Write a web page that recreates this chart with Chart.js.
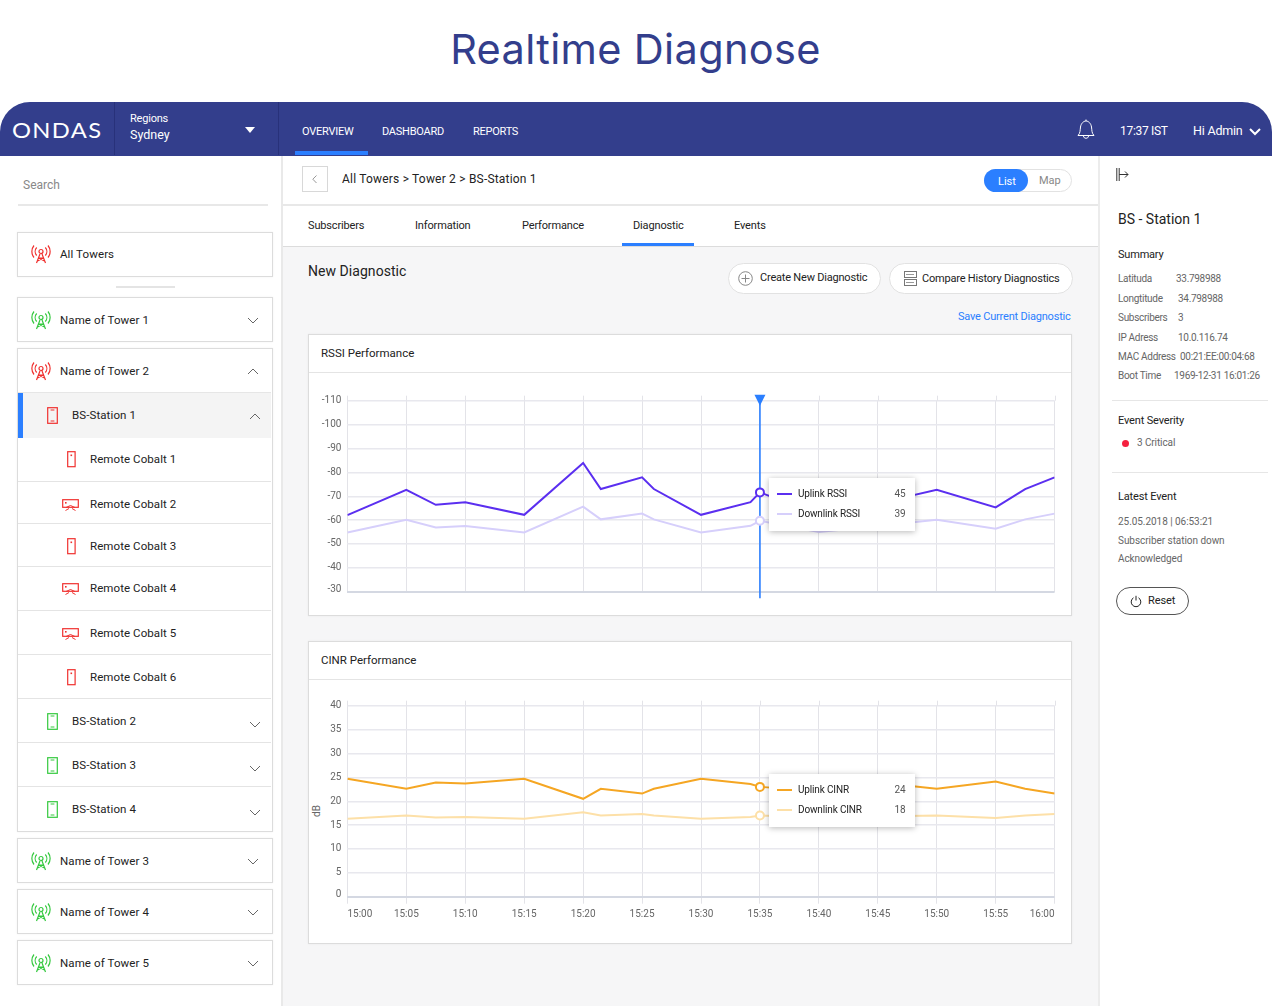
<!DOCTYPE html>
<html><head><meta charset="utf-8"><title>Realtime Diagnose</title>
<script src="https://cdn.jsdelivr.net/npm/chart.js@4"></script>
<style>
html,body{margin:0;padding:0;background:#fff}
body{width:1272px;height:1006px;position:relative;overflow:hidden;font-family:Roboto,sans-serif;color:#222}
.a{position:absolute}
.t{position:absolute;white-space:nowrap;line-height:1;transform:translateY(-50%)}
.box{position:absolute;background:#fff;border:1px solid #dcdcdc;box-sizing:border-box;box-shadow:0 0 2px rgba(0,0,0,.06)}
.tip{position:absolute;background:#fff;box-shadow:0 1px 6px rgba(0,0,0,.28);box-sizing:border-box;z-index:5}
svg{position:absolute;overflow:visible}
canvas{position:absolute}
</style></head><body>
<div id="ui"></div>
<canvas id="rssi" width="762" height="230" style="left:309px;top:376px;width:762px;height:230px"></canvas>
<canvas id="cinr" width="762" height="250" style="left:309px;top:685px;width:762px;height:250px"></canvas>
<div id="over"></div>
<script>
// ---- chart data ----
const minutes = [0,5,7.5,10,15,20,21.5,25,26,30,34.2,35,40,45,50,55,57.5,60];
const timeLabels = ['15:00','15:05','15:10','15:15','15:20','15:25','15:30','15:35','15:40','15:45','15:50','15:55','16:00'];
const uplinkRssi = [-62.1,-72.7,-66.4,-67.5,-62.2,-83.9,-73,-77.9,-73,-62.2,-67.5,-71.6,-62.2,-67,-72.7,-65.3,-73,-77.9];
const downlinkRssi = [-54.8,-60.1,-56.9,-57.5,-54.8,-65.6,-60.3,-62.7,-60.3,-54.8,-57.6,-59.7,-55,-57.5,-60.1,-56.4,-60.3,-62.7];
const uplinkCinr = [24.7,22.6,23.9,23.7,24.7,20.5,22.6,21.6,22.6,24.7,23.6,23,22.2,23.9,22.6,24.1,22.6,21.6];
const downlinkCinr = [16.3,17,16.6,16.7,16.3,17.7,17,17.3,17,16.3,16.7,17,16.6,16.8,17,16.5,17,17.3];
const cursorMinute = 35;
const rssiReadout = [45,39];
const cinrReadout = [24,18];

const NAVY='#333e8c', BLUE='#2b7fff';
const ui=document.getElementById('ui'), over=document.getElementById('over');
function rect(x,y,w,h,c,extra,p){const d=document.createElement('div');d.className='a';d.style.cssText=`left:${x}px;top:${y}px;width:${w}px;height:${h}px;background:${c};${extra||''}`;(p||ui).appendChild(d);return d}
function box(x,y,w,h,p){const d=document.createElement('div');d.className='box';d.style.cssText=`left:${x}px;top:${y}px;width:${w}px;height:${h}px`;(p||ui).appendChild(d);return d}
function txt(x,y,s,size,c,extra,p){const d=document.createElement('div');d.className='t';d.textContent=s;d.style.cssText=`left:${x}px;top:${y}px;font-size:${size}px;color:${c||'#222'};${extra||''}`;(p||ui).appendChild(d);return d}
function svg(x,y,w,h,inner,p){const n=document.createElement('div');n.innerHTML=`<svg style="left:${x}px;top:${y}px" width="${w}" height="${h}" viewBox="0 0 ${w} ${h}" fill="none">${inner}</svg>`;(p||ui).appendChild(n.firstChild)}
function tower(x,y,c){svg(x,y,20,20,`<g stroke="${c}" stroke-width="1.2"><circle cx="10" cy="7.5" r="2"/><path d="M9 10 L5.5 19 M11 10 L14.5 19 M7.8 14 H12.2 M6.5 17 L12.5 14 M13.5 17 L7.5 14"/><path d="M5.7 3.5a6 6 0 0 0 0 8M14.3 3.5a6 6 0 0 1 0 8M3 1.5a9.5 9.5 0 0 0 0 12M17 1.5a9.5 9.5 0 0 1 0 12"/></g>`)}
function phone(x,y,c){svg(x,y,12,18,`<rect x=".7" y=".7" width="9.6" height="15.6" stroke="${c}" stroke-width="1.2"/><path d="M3.6 3H7.4M3.6 14H7.4" stroke="${c}" stroke-width="1"/>`)}
function remote(x,y){svg(x,y,10,16,`<rect x=".7" y=".7" width="7.4" height="15" stroke="#f0312f" stroke-width="1.2"/><rect x="3.5" y="3.5" width="1.6" height="1.6" fill="#f0312f"/>`)}
function beam(x,y){svg(x,y,18,13,`<rect x=".7" y=".7" width="15.6" height="7.6" stroke="#f0312f" stroke-width="1.2"/><rect x="3" y="3" width="1.6" height="1.6" fill="#f0312f"/><path d="M4 8.5 L8.5 6.5 L13 8.5M3.5 11.5 L7 9.5 M13.5 11.5 L10 9.5" stroke="#f0312f" stroke-width="1"/>`)}
function chev(x,y,up,c,w){svg(x,y,12,7,`<path d="${up?'M1 6 L6 1 L11 6':'M1 1 L6 6 L11 1'}" stroke="${c||'#666'}" stroke-width="${w||1}"/>`)}

// ---- page frame ----
txt(635.5,50,'Realtime Diagnose',41.5,NAVY,'transform:translate(-50%,-50%);font-family:Inter,sans-serif;font-weight:400;letter-spacing:.35px');
rect(0,155,281,851,'#fff');
rect(283,246,815,760,'#f6f6f7');
rect(281,155,2,851,'#e9e9e9');
rect(1098,155,1.5,851,'#ececec');
const hd=rect(0,102,1272,53.5,NAVY,'border-radius:30px 30px 0 0');
rect(114,102,1,53,'#28317a');rect(278,102,1,53,'#28317a');
txt(12,128.5,'ONDAS',21,'#fff','font-family:Lato,sans-serif;font-weight:400;letter-spacing:1.2px;transform:translateY(-50%) scaleX(1.13);transform-origin:left');
txt(130,118,'Regions',11,'#fff','letter-spacing:-.2px');
txt(130,135,'Sydney',12.5,'#fff');
svg(245,127,11,7,'<path d="M0 0H10L5 6Z" fill="#fff"/>');
txt(302,131,'OVERVIEW',11,'#fff','letter-spacing:-.25px');
txt(382,131,'DASHBOARD',11,'#fff','letter-spacing:-.25px');
txt(473,131,'REPORTS',11,'#fff','letter-spacing:-.25px');
rect(295,151,73,4,BLUE);
svg(1076,119,20,21,'<path d="M2 16.5 C4.5 14 4 11 4.5 8 C5 4.5 7.5 2 10 2 C12.5 2 15 4.5 15.5 8 C16 11 15.5 14 18 16.5 Z M7.5 17 C7.5 20 12.5 20 12.5 17 M10 0.5 V2" stroke="#fff" stroke-width="1"/>');
txt(1120,131,'17:37 IST',12,'#fff','letter-spacing:-.3px');
txt(1193,131,'Hi Admin',12.5,'#fff','letter-spacing:-.2px');
chev(1249,128,false,'#fff',2);

// ---- left tree ----
txt(23,185,'Search',12,'#888');
rect(18,204,250,2,'#e8e8e8');
box(17,232,256,44.5);tower(31,244,'#f0312f');txt(60,255,'All Towers',11.5,'#222','letter-spacing:.1px');
rect(116,286,59,1.5,'#e4e4e4');
const towerRows=[[297,'Name of Tower 1','#35c93f',321],[838,'Name of Tower 3','#35c93f',862],[889,'Name of Tower 4','#35c93f',913],[940,'Name of Tower 5','#35c93f',964]];
towerRows.forEach(r=>{box(17,r[0],256,45);tower(31,r[0]+13,r[2]);txt(60,r[3],r[1],11.5,'#222','letter-spacing:.1px');chev(247,r[3]-4,false)});
box(17,348,255.5,484);tower(31,361,'#f0312f');txt(60,372,'Name of Tower 2',11.5,'#222','letter-spacing:.1px');chev(247,368,true);
rect(18,392,253,45.5,'#f4f4f4','border-top:1px solid #e6e6e6;box-sizing:border-box');
rect(18,393,5,44.5,BLUE);
phone(47,407,'#f0312f');txt(72,416,'BS-Station 1',11.5,'#222','letter-spacing:.1px');chev(249,413,true);
const remotes=[[460,'Remote Cobalt 1',481],[505,'Remote Cobalt 2',523],[547,'Remote Cobalt 3',566],[589,'Remote Cobalt 4',610],[634,'Remote Cobalt 5',654],[678,'Remote Cobalt 6',698]];
remotes.forEach((r,i)=>{txt(90,r[0],r[1],11.5,'#222','letter-spacing:.08px');rect(18,r[2],253,1,'#e4e4e4');
 if(i==1||i==3||i==4)beam(62,r[0]-6);else remote(67,r[0]-9)});
[[722,'BS-Station 2',742],[766,'BS-Station 3',786],[810,'BS-Station 4',0]].forEach(r=>{phone(47,r[0]-9,'#35c93f');txt(72,r[0],r[1],11.5,'#222','letter-spacing:.1px');chev(249,r[0]-1,false);if(r[2])rect(18,r[2],253,1,'#e4e4e4')});

// ---- centre header ----
rect(283,204,815,2,'#e8e8e8');
rect(283,245.5,815,1,'#dcdcdc');
rect(302,166,26,26,'#fff','border:1px solid #d8d8d8;box-sizing:border-box');
svg(312,175,6,9,'<path d="M4.5 .5L.8 4.2L4.5 8" stroke="#999" stroke-width="1"/>');
txt(342,179,'All Towers > Tower 2 > BS-Station 1',12,'#222','letter-spacing:.2px');
rect(984,169,88,23,'#fff','border:1px solid #e2e2e2;border-radius:12px;box-sizing:border-box');
rect(984,169,44,23,BLUE,'border-radius:12px');
txt(998,180.5,'List',11,'#fff');txt(1039,179.5,'Map',11,'#888');
[[308,'Subscribers'],[415,'Information'],[522,'Performance'],[633,'Diagnostic'],[734,'Events']].forEach(t=>txt(t[0],225,t[1],11,'#222','letter-spacing:-.15px'));
rect(622,243,72,3,BLUE);
txt(308,271,'New Diagnostic',14,'#222','letter-spacing:.05px');
rect(728,263,153,31,'#fff','border:1px solid #e2e2e2;border-radius:16px;box-sizing:border-box');
rect(889,263,184,31,'#fff','border:1px solid #e2e2e2;border-radius:16px;box-sizing:border-box');
svg(738,270.5,15,15,'<circle cx="7.5" cy="7.5" r="6.8" stroke="#888"/><path d="M7.5 3.5V11.5M3.5 7.5H11.5" stroke="#888"/>');
txt(760,277,'Create New Diagnostic',11,'#222','letter-spacing:-.2px');
svg(904,271,13,15,'<rect x=".5" y=".5" width="12" height="6" stroke="#777"/><rect x=".5" y="8.5" width="12" height="6" stroke="#777"/><path d="M2 3.5H10M2 11.5H10" stroke="#999"/>');
txt(922,278,'Compare History Diagnostics',11,'#222','letter-spacing:-.2px');
txt(958,316,'Save Current Diagnostic',11,BLUE,'letter-spacing:-.2px');

// ---- chart cards ----
box(308,334,764,282);rect(309,372,762,1,'#e4e4e4');txt(321,354,'RSSI Performance',11.5,'#222');
box(308,641,764,303);rect(309,679,762,1,'#e4e4e4');txt(321,661,'CINR Performance',11.5,'#222');
txt(317,811,'dB',10,'#666','transform:translate(-50%,-50%) rotate(-90deg)');

// ---- right panel ----
svg(1116,168,13,13,'<path d="M.8 0V13M3.2 0V13M3.2 6.5H12M9 3.5L12 6.5L9 9.5" stroke="#333" stroke-width="1"/>');
txt(1118,219,'BS - Station 1',14,'#222');
txt(1118,254,'Summary',11,'#222','letter-spacing:-.2px');
[[279,'Latituda',1176,'33.798988'],[298.5,'Longtitude',1178,'34.798988'],[317.5,'Subscribers',1178,'3'],[337.5,'IP Adress',1178,'10.0.116.74'],[356.5,'MAC Address',1180,'00:21:EE:00:04:68'],[376,'Boot Time',1174,'1969-12-31 16:01:26']].forEach(r=>{txt(1118,r[0],r[1],10,'#666','letter-spacing:-.3px');txt(r[2],r[0],r[3],10,'#666','letter-spacing:-.3px')});
rect(1112,400,156,1,'#e6e6e6');
txt(1118,420,'Event Severity',11,'#222','letter-spacing:-.15px');
rect(1122,440,7,7,'#f5203f','border-radius:50%');
txt(1137,443,'3 Critical',10,'#666','letter-spacing:-.1px');
rect(1112,472,156,1,'#e6e6e6');
txt(1118,496,'Latest Event',11,'#222','letter-spacing:-.15px');
txt(1118,521.5,'25.05.2018 | 06:53:21',10,'#666','letter-spacing:-.05px');
txt(1118,540.5,'Subscriber station down',10,'#666','letter-spacing:-.05px');
txt(1118,558.5,'Acknowledged',10,'#666','letter-spacing:-.1px');
rect(1116,587,73,28,'#fff','border:1px solid #555;border-radius:14px;box-sizing:border-box');
svg(1130,595,12,12,'<path d="M3.5 2.8a4.8 4.8 0 1 0 5 0M6 .8V5.5" stroke="#222" stroke-width="1"/>');
txt(1148,600,'Reset',11,'#222','letter-spacing:-.1px');

// ---- tooltips (readout cards over the plots) ----
function tip(top,h,names,vals,cols,rowY){
 const d=document.createElement('div');d.className='tip';d.style.cssText=`left:769px;top:${top}px;width:146px;height:${h}px`;over.appendChild(d);
 names.forEach((n,i)=>{rect(8,rowY[i]-1,15,2,cols[i],'',d);txt(29,rowY[i],n,10,'#222','letter-spacing:-.15px',d);txt(125.5,rowY[i],String(vals[i]),10,'#555','',d)});
}
tip(477.5,53.5,['Uplink RSSI','Downlink RSSI'],rssiReadout,['#5b2ff0','#d6cffb'],[16,36]);
tip(774,53,['Uplink CINR','Downlink CINR'],cinrReadout,['#f5a623','#fde0a8'],[16,36]);

// ---- Chart.js ----
const series=(ys)=>minutes.map((m,i)=>({x:m,y:ys[i]}));
const ds=(label,ys,col)=>({label,data:series(ys),borderColor:col,backgroundColor:'#fff',borderWidth:2,tension:0,
  pointRadius:c=>c.raw.x===cursorMinute?4:0,pointBorderWidth:2,pointHoverRadius:0,pointBackgroundColor:'#fff',pointBorderColor:col});
const vgrid={id:'vgrid',beforeDatasetsDraw(c){const x=c.scales.x,a=c.chartArea,g=c.ctx;g.save();g.strokeStyle='#e3e3e8';g.lineWidth=1;
  x.ticks.forEach(t=>{const p=Math.round(x.getPixelForValue(t.value))+.5;g.beginPath();g.moveTo(p,a.top-5);g.lineTo(p,a.top);g.stroke()});g.restore()}};
const cursor={id:'cursor',beforeDatasetsDraw(c){const p=c.scales.x.getPixelForValue(cursorMinute),a=c.chartArea,g=c.ctx;g.save();g.strokeStyle=BLUE;g.lineWidth=1.6;
  g.beginPath();g.moveTo(p,a.top-5);g.lineTo(p,a.bottom+6.5);g.stroke();
  g.fillStyle=BLUE;g.beginPath();g.moveTo(p-5.5,a.top-6);g.lineTo(p+5.5,a.top-6);g.lineTo(p,a.top+5);g.closePath();g.fill();g.restore()}};
function makeChart(id,up,down,uc,dc,names,ymin,ymax,step,rev,showX,pad,plugins,bottomVal){
 return new Chart(document.getElementById(id),{type:'line',
  data:{datasets:[ds(names[1],down,dc),ds(names[0],up,uc)]},
  plugins:[vgrid].concat(plugins),
  options:{responsive:false,animation:false,devicePixelRatio:1,layout:{padding:pad},
   plugins:{legend:{display:false},tooltip:{enabled:false}},
   scales:{
    x:{type:'linear',min:0,max:60,
     border:{display:false},
     grid:{color:'#e3e3e8',lineWidth:1,drawTicks:showX,tickLength:7},
     afterFit(s){s.height=showX?29:0},
     ticks:{display:showX,stepSize:5,autoSkip:false,maxRotation:0,align:'inner',padding:5,color:'#666',font:{family:'Roboto',size:10},
       callback:v=>timeLabels[v/5]}},
    y:{min:ymin,max:ymax,reverse:rev,
     border:{display:false},
     afterFit(s){s.width=38.4},
     grid:{drawTicks:false,color:c=>c.tick.value===bottomVal?'#d4d8e2':'#e8e8ee',lineWidth:c=>c.tick.value===bottomVal?2:1.4},
     ticks:{stepSize:step,padding:6,color:'#666',
       font:c=>({family:'Roboto',size:10,lineHeight:c.tick&&c.tick.value===bottomVal?'5px':1.2}),
       callback:v=>v===bottomVal?[String(v),'']:String(v)}}
   }}});
}
makeChart('rssi',uplinkRssi,downlinkRssi,'#5b2ff0','#d6cffb',['Uplink RSSI','Downlink RSSI'],-110,-30,10,true,false,{top:24.7,bottom:14.3,right:16.4,left:0},[cursor],-30);
makeChart('cinr',uplinkCinr,downlinkCinr,'#f5a623','#fde0a8',['Uplink CINR','Downlink CINR'],0,40,5,false,true,{top:20.7,bottom:9.3,right:16.4,left:0},[],0);
</script>
</body></html>
